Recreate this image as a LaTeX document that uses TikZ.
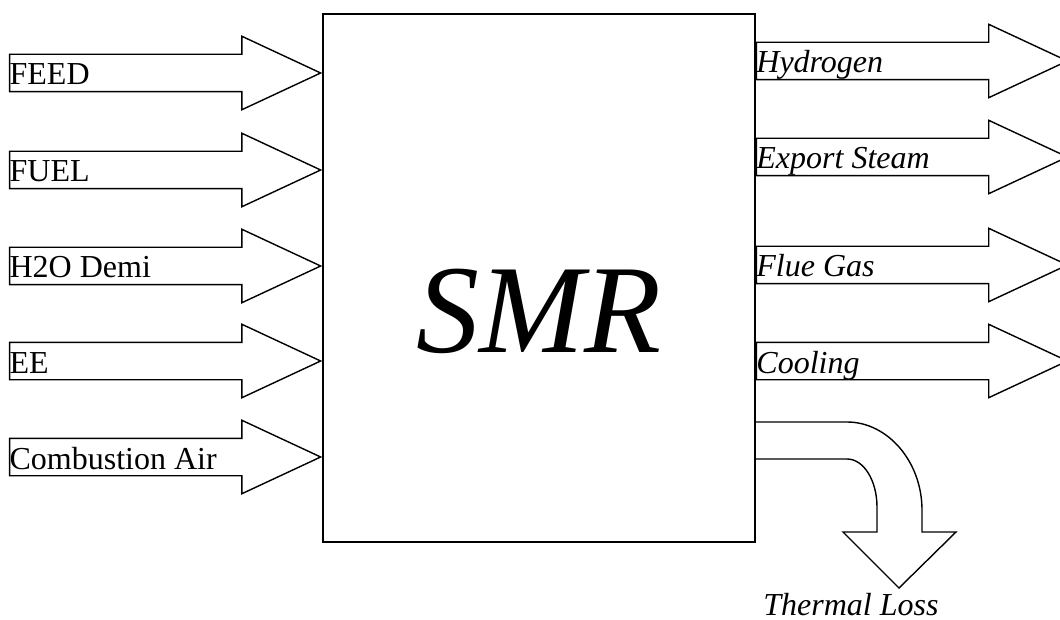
\documentclass[tikz,border=0pt]{standalone}
\usepackage{fontspec}
\setmainfont{Liberation Serif}
\usetikzlibrary{shapes.arrows,positioning}

\begin{document}
\begin{tikzpicture}[x=1pt,y=-1pt,
    line width=1.4pt,
    unit/.style={rectangle,draw=black,minimum width=432pt,minimum height=528pt},
    flow/.style={single arrow,draw=black,inner sep=0pt,text height=18pt,text depth=18pt,
      minimum height=311pt,single arrow head extend=18pt,single arrow tip angle=50},
    inflow/.style={flow,anchor=tip},
    outflow/.style={flow,anchor=tail},
    stream/.style={inner sep=0pt,anchor=base west,font=\fontsize{32}{38}\selectfont},
    product/.style={stream,font=\fontsize{32}{38}\selectfont\itshape}]
    \useasboundingbox (0,0) rectangle (1060,620);
    % reformer block
    \node[unit] (smr) at (539,278) {};
    \node[anchor=base,inner sep=0pt,font=\fontsize{126}{126}\selectfont\itshape] (smrtext)
      at ([yshift=-74pt]smr.center) {SMR};
    % inputs
    \node[inflow] (feed) at (smr.west |- 0,73) {};
    \node[inflow] (fuel) at (smr.west |- 0,170) {};
    \node[inflow] (water) at (smr.west |- 0,266) {};
    \node[inflow] (ee) at (smr.west |- 0,361) {};
    \node[inflow] (air) at (smr.west |- 0,457) {};
    \node[stream] at ([yshift=-12pt]feed.tail) {FEED};
    \node[stream] at ([yshift=-12pt]fuel.tail) {FUEL};
    \node[stream] at ([yshift=-12pt]water.tail) {H2O Demi};
    \node[stream] at ([yshift=-12pt]ee.tail) {EE};
    \node[stream] at ([yshift=-12pt]air.tail) {Combustion Air};
    % outputs
    \node[outflow] (hydrogen) at (smr.east |- 0,61) {};
    \node[outflow] (steam) at (smr.east |- 0,157) {};
    \node[outflow] (flue) at (smr.east |- 0,265) {};
    \node[outflow] (cooling) at (smr.east |- 0,361) {};
    \node[product] at ([yshift=-12pt]hydrogen.tail) {Hydrogen};
    \node[product] at ([yshift=-12pt]steam.tail) {Export Steam};
    \node[product] at ([yshift=-12pt]flue.tail) {Flue Gas};
    \node[product] at ([yshift=-12pt]cooling.tail) {Cooling};
    % heat loss, bent downwards
    \draw (smr.east |- 0,422) -- (847,422) .. controls (888,422) and (922,462) .. (922,510)
      -- (922,532) -- (956,532) -- (899,588) -- (843,532) -- (877,532) -- (877,507)
      .. controls (877,481) and (864,459) .. (847,459) -- (smr.east |- 0,459);
    \node[product,anchor=base] (loss) at (851,615) {Thermal Loss};
\end{tikzpicture}
\end{document}
